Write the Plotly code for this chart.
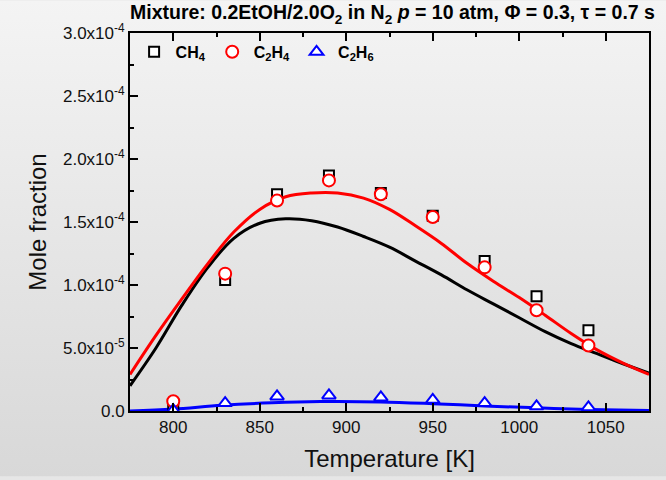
import plotly.graph_objects as go

# ---- data ----
T_exp = [800, 830, 860, 890, 920, 950, 980, 1010, 1040]
ch4_exp = [3.0e-6, 1.04e-4, 1.72e-4, 1.87e-4, 1.73e-4, 1.55e-4, 1.19e-4, 9.1e-5, 6.4e-5]
c2h4_exp = [7.7e-6, 1.09e-4, 1.67e-4, 1.83e-4, 1.72e-4, 1.54e-4, 1.14e-4, 8.0e-5, 5.2e-5]
c2h6_exp = [0.6e-6, 6.3e-6, 1.16e-5, 1.24e-5, 1.08e-5, 8.9e-6, 6.3e-6, 3.7e-6, 2.9e-6]

T_mod = [775, 790, 805, 820, 835, 850, 865, 880, 895, 910, 925, 940, 955, 970, 985, 1000,
         1015, 1030, 1045, 1060, 1075]
ch4_mod = [2.0e-5, 5.0e-5, 8.4e-5, 1.14e-4, 1.37e-4, 1.49e-4, 1.525e-4, 1.51e-4, 1.46e-4, 1.385e-4,
           1.30e-4, 1.19e-4, 1.08e-4, 9.6e-5, 8.5e-5, 7.4e-5, 6.3e-5, 5.35e-5, 4.55e-5, 3.75e-5, 3.0e-5]
c2h4_mod = [2.9e-5, 6.0e-5, 8.9e-5, 1.17e-4, 1.42e-4, 1.60e-4, 1.70e-4, 1.73e-4, 1.73e-4, 1.69e-4,
            1.60e-4, 1.47e-4, 1.33e-4, 1.17e-4, 1.03e-4, 9.0e-5, 7.6e-5, 6.15e-5, 4.85e-5, 3.8e-5, 2.9e-5]
T_c2h6_mod = [775, 800, 828, 857, 885, 920, 950, 980, 1010, 1040, 1075]
c2h6_mod = [0.0, 1.5e-6, 4.5e-6, 6.5e-6, 7.5e-6, 7.2e-6, 5.8e-6, 4.0e-6, 2.5e-6, 1.2e-6, 0.3e-6]

y_tickvals = [0, 0.5e-4, 1.0e-4, 1.5e-4, 2.0e-4, 2.5e-4, 3.0e-4]
y_ticktext = ["0.0", "5.0x10<sup>-5</sup>", "1.0x10<sup>-4</sup>", "1.5x10<sup>-4</sup>",
              "2.0x10<sup>-4</sup>", "2.5x10<sup>-4</sup>", "3.0x10<sup>-4</sup>"]
x_tickvals = [800, 850, 900, 950, 1000, 1050]

BASE = "Liberation Sans, Arial, sans-serif"
NARROW = "Liberation Sans Narrow, Arial Narrow, Liberation Sans, sans-serif"

fig = go.Figure()

# model lines
fig.add_trace(go.Scatter(x=T_mod, y=ch4_mod, mode="lines", line=dict(color="black", width=3, shape="spline"),
                         showlegend=False, hoverinfo="skip"))
fig.add_trace(go.Scatter(x=T_mod, y=c2h4_mod, mode="lines", line=dict(color="#ff0000", width=3, shape="spline"),
                         showlegend=False, hoverinfo="skip"))
fig.add_trace(go.Scatter(x=T_c2h6_mod, y=c2h6_mod, mode="lines", line=dict(color="#0000ff", width=3, shape="spline"),
                         showlegend=False, hoverinfo="skip"))

# experimental points
fig.add_trace(go.Scatter(x=T_exp, y=ch4_exp, mode="markers", name="CH<sub>4</sub>",
                         marker=dict(symbol="square", size=10, color="white", line=dict(color="black", width=2))))
fig.add_trace(go.Scatter(x=T_exp, y=c2h4_exp, mode="markers", name="C<sub>2</sub>H<sub>4</sub>",
                         marker=dict(symbol="circle", size=12, color="white", line=dict(color="#ff0000", width=2))))
fig.add_trace(go.Scatter(x=T_exp, y=c2h6_exp, mode="markers", name="C<sub>2</sub>H<sub>6</sub>",
                         marker=dict(symbol="triangle-up", size=12, color="white", line=dict(color="#0000ff", width=2))))

bg_svg = ("data:image/svg+xml;utf8,<svg xmlns='http://www.w3.org/2000/svg' width='666' height='480'>"
          "<defs><linearGradient id='g' x1='0' y1='0' x2='0' y2='1'>"
          "<stop offset='0' stop-color='%23f4f4f4'/><stop offset='1' stop-color='%23d8d8d8'/>"
          "</linearGradient></defs><rect width='666' height='480' fill='url(%23g)'/></svg>")

fig.update_layout(
    width=666, height=480,
    margin=dict(l=130, r=17, t=33, b=66),
    paper_bgcolor="#e6e6e6",
    plot_bgcolor="rgba(0,0,0,0)",
    images=[dict(source=bg_svg, xref="paper", yref="paper", x=-130/519, y=1 + 33/381,
                 sizex=666/519, sizey=480/381, xanchor="left", yanchor="top",
                 sizing="stretch", layer="below")],
    font=dict(family=BASE, color="#111111", size=17),
    title=dict(text="Mixture: 0.2EtOH/2.0O<sub>2</sub> in N<sub>2</sub> <i>p</i> = 10 atm, Φ = 0.3, τ = 0.7 s",
               font=dict(family=NARROW, size=19.5, color="black", weight="bold"),
               x=130/666, xanchor="left", y=0.988, yanchor="top"),
    showlegend=True,
    legend=dict(orientation="h", x=0.005, y=0.995, xanchor="left", yanchor="top",
                bgcolor="rgba(0,0,0,0)", font=dict(family=NARROW, size=16, color="black", weight="bold"),
                itemwidth=33, tracegroupgap=0),
    xaxis=dict(range=[775, 1075], tickvals=x_tickvals, ticks="inside", ticklen=8, tickwidth=2,
               tickcolor="black", showline=True, linecolor="black", linewidth=2, mirror="ticks",
               showgrid=False, zeroline=False, tickfont=dict(size=17),
               minor=dict(dtick=25, tick0=775, ticks="inside", ticklen=4, tickwidth=1.5, tickcolor="black"),
               title=dict(text="Temperature [K]", font=dict(size=24), standoff=14)),
    yaxis=dict(range=[0, 3.0e-4], tickvals=y_tickvals, ticktext=y_ticktext, ticks="inside", ticklen=8,
               tickwidth=2, tickcolor="black", showline=True, linecolor="black", linewidth=2, mirror=True,
               showgrid=False, zeroline=False, tickfont=dict(size=17),
               minor=dict(tickvals=[0.25e-4, 0.75e-4, 1.25e-4, 1.75e-4, 2.25e-4, 2.75e-4],
                          ticks="inside", ticklen=4, tickwidth=1.5, tickcolor="black"),
               title=dict(text="Mole fraction", font=dict(size=24), standoff=10)),
)

fig.write_html("out.html")
